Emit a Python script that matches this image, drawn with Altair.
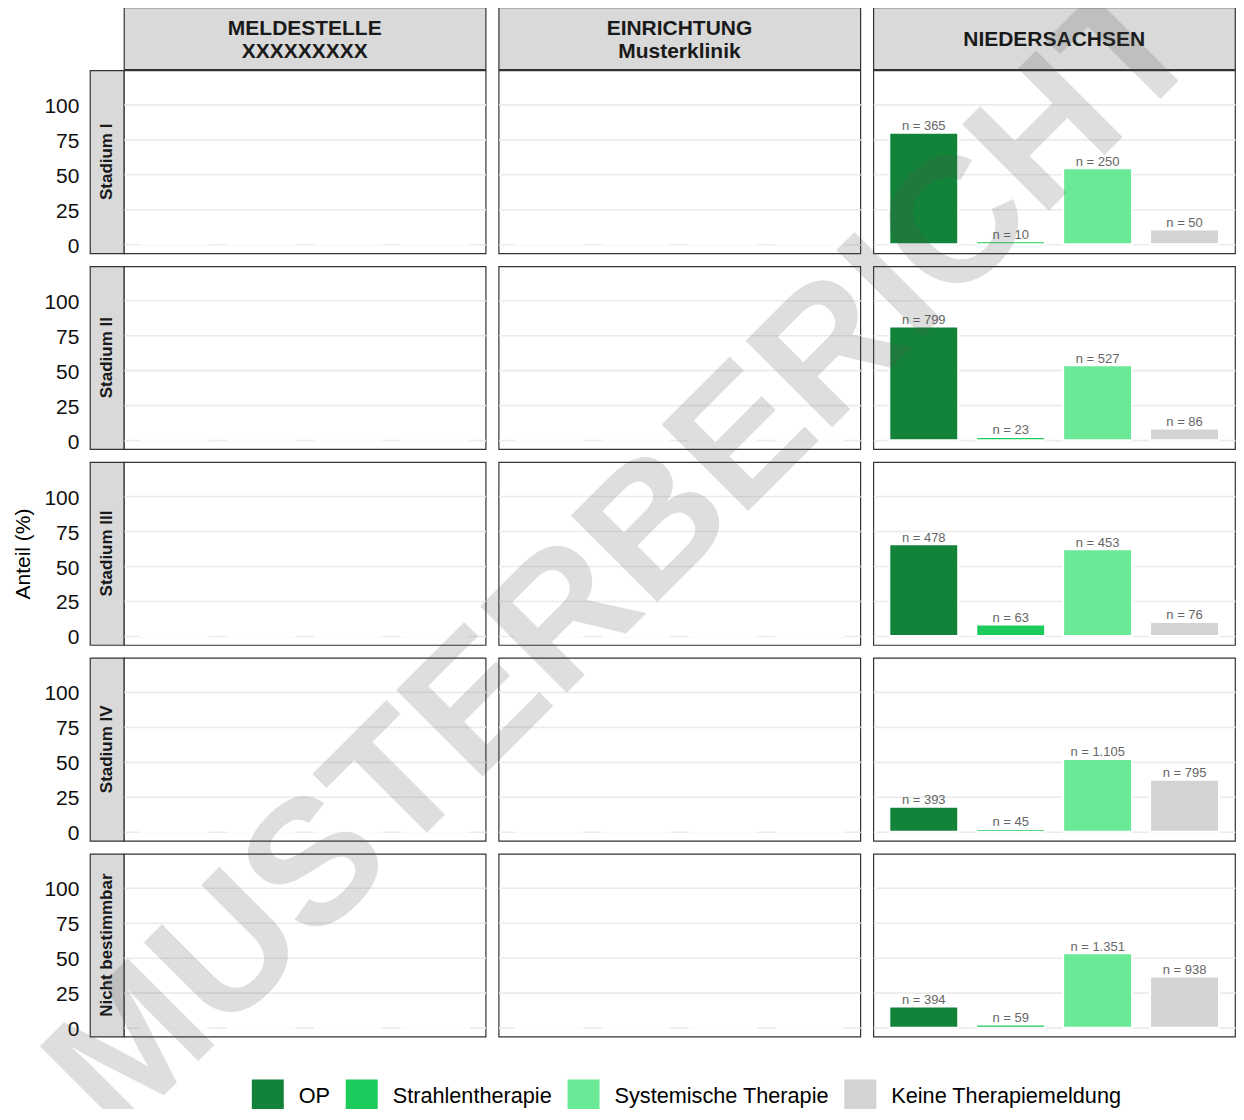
import altair as alt
import pandas as pd

# ---------------- data ----------------
spalten = ["MELDESTELLE\nXXXXXXXXX", "EINRICHTUNG\nMusterklinik", "NIEDERSACHSEN"]
stadien = ["Stadium I", "Stadium II", "Stadium III", "Stadium IV", "Nicht bestimmbar"]
therapien = ["OP", "Strahlentherapie", "Systemische Therapie", "Keine Therapiemeldung"]
farben = ["#138339", "#1ccb5b", "#6aea97", "#d3d3d3"]

# Anteil (%) Niedersachsen je Stadium, Reihenfolge wie therapien
ns_stadium_1 = [79.7, 2.2, 54.3, 10.5]
ns_stadium_2 = [81.3, 2.3, 53.6, 8.3]
ns_stadium_3 = [65.5, 8.2, 62.0, 10.0]
ns_stadium_4 = [18.0, 2.1, 52.1, 37.2]
ns_nicht_best = [15.2, 2.3, 53.1, 36.6]
ns_anteil = [ns_stadium_1, ns_stadium_2, ns_stadium_3, ns_stadium_4, ns_nicht_best]

n_stadium_1 = ["365", "10", "250", "50"]
n_stadium_2 = ["799", "23", "527", "86"]
n_stadium_3 = ["478", "63", "453", "76"]
n_stadium_4 = ["393", "45", "1.105", "795"]
n_nicht_best = ["394", "59", "1.351", "938"]
ns_n = [n_stadium_1, n_stadium_2, n_stadium_3, n_stadium_4, n_nicht_best]

y_ticks = [0, 25, 50, 75, 100]
y_titel = "Anteil (%)"
wasserzeichen = "MUSTERBERICHT"

# ---------------- layout ----------------
FONT = "Liberation Sans"
PW, PH = 362, 183      # panel size
SW = 34                # strip width
HH = 62                # header height
GAP = 13
LH = 23                # header line height
BORDER = "#333333"
STRIP_FILL = "#d9d9d9"

yscale = alt.Scale(domain=[-6.4, 124.3], nice=False, zero=False)
xscale = alt.Scale(domain=therapien, paddingInner=0.207, paddingOuter=0.184)
cscale = alt.Scale(domain=therapien, range=farben)
legend = alt.Legend(title=None, orient="none", legendX=162, legendY=1073,
                    direction="horizontal")

blank_df = pd.DataFrame({"t": [""]})


def gap(w, h):
    return alt.Chart(blank_df).mark_text().encode(text="t:N").properties(
        width=w, height=h,
        view=alt.ViewBackground(fill="transparent", stroke="transparent", strokeWidth=0))


def panel(ri, ci):
    if ci == 2:
        vals = ns_anteil[ri]
        labels = ["n = " + n for n in ns_n[ri]]
    else:
        vals = [0, 0, 0, 0]
        labels = ["", "", "", ""]
    df = pd.DataFrame({"therapie": therapien, "anteil": vals, "label": labels})
    if ci == 0:
        yaxis = alt.Axis(values=y_ticks, offset=SW, labelPadding=11, ticks=False,
                         domain=False, grid=True, labelOverlap=False, labelOffset=2,
                         title=y_titel if ri == 2 else "", titlePadding=10)
    else:
        yaxis = alt.Axis(values=y_ticks, labels=False, ticks=False, domain=False,
                         grid=True, title="")
    base = alt.Chart(df)
    xenc = alt.X("therapie:N", scale=xscale, axis=None, sort=therapien)
    yenc = alt.Y("anteil:Q", scale=yscale, axis=yaxis)
    bars = base.mark_bar(stroke="white", strokeWidth=2).encode(
        x=xenc, y=yenc,
        color=alt.Color("therapie:N", scale=cscale, legend=legend, sort=therapien),
    )
    layers = [bars]
    if ci == 2:
        txt = base.mark_text(fontSize=13, color="#666666", baseline="alphabetic",
                             align="center", dy=-2.5, font=FONT).encode(
            x=xenc, y=yenc, text="label:N")
        layers.append(txt)
    if ri == 4 and ci == 2:
        wm = alt.Chart(pd.DataFrame({"t": [wasserzeichen]})).mark_text(
            fontSize=178, font=FONT, fontWeight="bold", angle=315, align="center",
            baseline="middle", color="#505050", opacity=0.18).encode(
            text="t:N", x=alt.value(-248), y=alt.value(-295))
        layers.append(wm)
    return alt.layer(*layers).properties(
        width=PW, height=PH,
        view=alt.ViewBackground(fill="white", stroke=BORDER, strokeWidth=1.2))


def header(title):
    n_lines = title.count("\n") + 1
    return alt.Chart(pd.DataFrame({"t": [title]})).mark_text(
        font=FONT, fontSize=21, fontWeight="bold", color="#1a1a1a", lineBreak="\n",
        lineHeight=LH, align="center", baseline="middle",
        dy=2 - (n_lines - 1) * LH / 2).encode(
        text="t:N", x=alt.value(PW / 2), y=alt.value(HH / 2)).properties(
        width=PW, height=HH,
        view=alt.ViewBackground(fill=STRIP_FILL, stroke=BORDER, strokeWidth=1.2))


def strip(label):
    return alt.Chart(pd.DataFrame({"t": [label]})).mark_text(
        font=FONT, fontSize=17, fontWeight="bold", color="#1a1a1a", angle=270,
        align="center", baseline="middle").encode(
        text="t:N", x=alt.value(SW / 2), y=alt.value(PH / 2)).properties(
        width=SW, height=PH,
        view=alt.ViewBackground(fill=STRIP_FILL, stroke=BORDER, strokeWidth=1.2))


# grid: columns = strip | p1 | gap | p2 | gap | p3
cells = [gap(SW, HH), header(spalten[0]), gap(GAP, 1), header(spalten[1]),
         gap(GAP, 1), header(spalten[2])]
cells += [gap(1, 1) for _ in range(6)]          # 1px between header and row 1
for ri, s in enumerate(stadien):
    if ri > 0:
        cells += [gap(1, GAP) for _ in range(6)]
    cells += [strip(s), panel(ri, 0), gap(GAP, 1), panel(ri, 1), gap(GAP, 1),
              panel(ri, 2)]

chart = alt.concat(*cells, columns=6, spacing=0, bounds="flush")
chart = chart.resolve_scale(color="shared").resolve_legend(color="shared")

chart = chart.properties(
    background="white",
    padding={"left": 4, "top": -58, "right": 0, "bottom": -59},
).configure(font=FONT).configure_axis(
    labelFont=FONT, labelFontSize=21, labelColor="#111111",
    gridColor="#ebebeb", gridWidth=1.6,
    titleFont=FONT, titleFontSize=21, titleFontWeight="normal", titleColor="#000000",
).configure_legend(
    labelFont=FONT, labelFontSize=21.7, labelColor="#000000", labelLimit=400,
    symbolType="square", symbolSize=1024, symbolStrokeWidth=0, symbolOpacity=1,
    labelOffset=15, columnPadding=15, padding=0,
)

chart.save("out.html", embed_options={"renderer": "svg", "actions": False})
